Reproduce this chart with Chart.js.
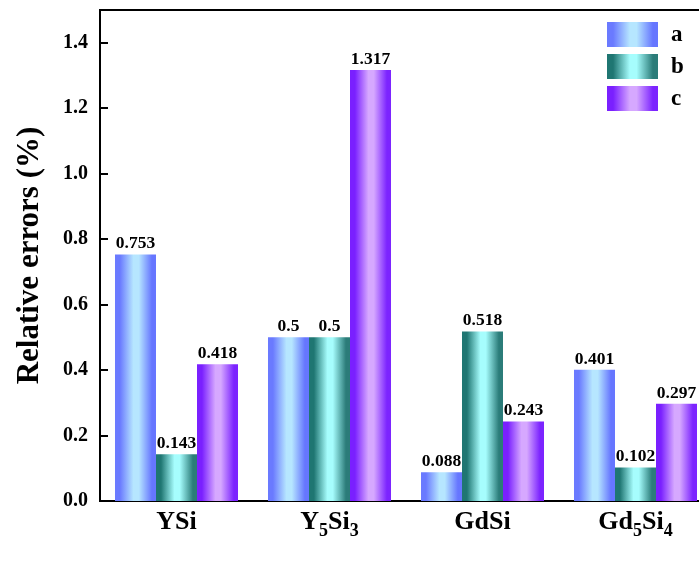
<!DOCTYPE html>
<html>
<head>
<meta charset="utf-8">
<script src="https://cdn.jsdelivr.net/npm/chart.js@4/dist/chart.umd.min.js"></script>
<style>
  html, body { margin: 0; padding: 0; background: #fff; overflow: hidden; width: 699px; height: 563px; }
  #wrap { width: 720px; height: 563px; position: relative; }
</style>
</head>
<body>
<div id="wrap"><canvas id="chart" width="720" height="563"></canvas></div>
<script>
// Compounds on the x axis; "_n" marks a subscript digit
const categories = ['YSi', 'Y_5Si_3', 'GdSi', 'Gd_5Si_4'];
// Relative errors (%) for each method
const seriesA = [0.753, 0.5, 0.088, 0.401];
const seriesB = [0.143, 0.5, 0.518, 0.102];
const seriesC = [0.418, 1.317, 0.243, 0.297];
const seriesNames = ['a', 'b', 'c'];
const yAxisTitle = 'Relative errors (%)';
const yMin = 0, yMax = 1.5, yStep = 0.2;

// Horizontal shading of each series: edge colour -> light centre -> edge colour
const shades = [
  ['#6a7aff', '#b6e6ff', '#6676ff'],
  ['#1f7672', '#a6fdfd', '#2b7c79'],
  ['#7a20ff', '#d6a8ff', '#7c24ff']
];

const FONT = '"Liberation Serif", "Times New Roman", serif';

function makeGradient(ctx, x0, x1, s) {
  const g = ctx.createLinearGradient(x0, 0, x1, 0);
  g.addColorStop(0, s[0]);
  g.addColorStop(0.12, s[0]);
  g.addColorStop(0.45, s[1]);
  g.addColorStop(0.58, s[1]);
  g.addColorStop(0.9, s[2]);
  g.addColorStop(1, s[2]);
  return g;
}

// Per-bar gradient fill, based on each bar's own left/right edges
const barShading = {
  id: 'barShading',
  beforeDatasetsDraw(chart) {
    const ctx = chart.ctx;
    chart.data.datasets.forEach((ds, di) => {
      const meta = chart.getDatasetMeta(di);
      meta.data.forEach(el => {
        const half = el.width / 2;
        const g = makeGradient(ctx, el.x - half, el.x + half, shades[di]);
        el.options = Object.assign({}, el.options, { backgroundColor: g, borderColor: g });
      });
    });
  }
};

// Value labels above bars
const valueLabels = {
  id: 'valueLabels',
  afterDatasetsDraw(chart) {
    const ctx = chart.ctx;
    ctx.save();
    ctx.font = 'bold 17.5px ' + FONT;
    ctx.fillStyle = '#000';
    ctx.textAlign = 'center';
    ctx.textBaseline = 'bottom';
    chart.data.datasets.forEach((ds, di) => {
      chart.getDatasetMeta(di).data.forEach((el, i) => {
        ctx.fillText(String(ds.data[i]), el.x, el.y - 2);
      });
    });
    ctx.restore();
  }
};

// Top frame line, inward y ticks, subscripted category labels and legend
const frameAndText = {
  id: 'frameAndText',
  afterDraw(chart) {
    const ctx = chart.ctx;
    const area = chart.chartArea;
    const ys = chart.scales.y;
    const xs = chart.scales.x;
    ctx.save();
    ctx.strokeStyle = '#000';
    ctx.lineWidth = 2;
    ctx.beginPath();
    ctx.moveTo(area.left - 1, area.top);
    ctx.lineTo(area.right, area.top);
    ys.ticks.forEach(t => {
      const y = Math.round(ys.getPixelForValue(t.value));
      ctx.moveTo(area.left, y);
      ctx.lineTo(area.left + 8, y);
    });
    ctx.stroke();

    // category labels with subscripts
    const mainFont = 'bold 26px ' + FONT;
    const subFont = 'bold 18px ' + FONT;
    ctx.fillStyle = '#000';
    ctx.textBaseline = 'alphabetic';
    ctx.textAlign = 'left';
    categories.forEach((label, i) => {
      const parts = [];
      label.split(/(_\d+)/).forEach(p => {
        if (!p) return;
        if (p[0] === '_') parts.push({ t: p.slice(1), sub: true });
        else parts.push({ t: p, sub: false });
      });
      let total = 0;
      parts.forEach(p => {
        ctx.font = p.sub ? subFont : mainFont;
        p.w = ctx.measureText(p.t).width;
        total += p.w;
      });
      let x = xs.getPixelForValue(i) - total / 2;
      const base = 529;
      parts.forEach(p => {
        ctx.font = p.sub ? subFont : mainFont;
        ctx.fillText(p.t, x, p.sub ? base + 7 : base);
        x += p.w;
      });
    });

    // legend
    const lx = 607, lw = 51, lh = 25, gap = 32, ly = 22;
    ctx.font = 'bold 23px ' + FONT;
    ctx.textBaseline = 'middle';
    seriesNames.forEach((name, i) => {
      const y = ly + i * gap;
      ctx.fillStyle = makeGradient(ctx, lx, lx + lw, shades[i]);
      ctx.fillRect(lx, y, lw, lh);
      ctx.fillStyle = '#000';
      ctx.fillText(name, lx + 64, y + lh / 2 + 1);
    });
    ctx.restore();
  }
};

new Chart(document.getElementById('chart'), {
  type: 'bar',
  data: {
    labels: categories,
    datasets: [
      { label: seriesNames[0], data: seriesA, backgroundColor: shades[0][0] },
      { label: seriesNames[1], data: seriesB, backgroundColor: shades[1][0] },
      { label: seriesNames[2], data: seriesC, backgroundColor: shades[2][0] }
    ]
  },
  options: {
    responsive: false,
    animation: false,
    devicePixelRatio: 1,
    layout: { padding: { left: 0, top: 10, right: 8, bottom: 0 } },
    datasets: { bar: { barPercentage: 1, categoryPercentage: 0.804, borderWidth: 0 } },
    plugins: { legend: { display: false }, tooltip: { enabled: false } },
    scales: {
      x: {
        grid: { display: false, drawTicks: false },
        border: { display: true, color: '#000', width: 2 },
        ticks: { display: false },
        afterFit(scale) { scale.height = 62; scale.paddingLeft = 0; scale.paddingRight = 0; }
      },
      y: {
        min: yMin,
        max: yMax,
        grid: { display: false, drawTicks: false },
        border: { display: true, color: '#000', width: 2 },
        ticks: {
          stepSize: yStep,
          includeBounds: false,
          padding: 12,
          color: '#000',
          font: { family: FONT, size: 20, weight: 'bold' },
          callback: v => Number(v).toFixed(1)
        },
        title: {
          display: true,
          text: yAxisTitle,
          color: '#000',
          font: { family: FONT, size: 31, weight: 'bold' },
          padding: { top: 11, bottom: 0 }
        },
        afterFit(scale) { scale.width = 100; scale.paddingTop = 0; scale.paddingBottom = 0; }
      }
    }
  },
  plugins: [barShading, valueLabels, frameAndText]
});
</script>
</body>
</html>
